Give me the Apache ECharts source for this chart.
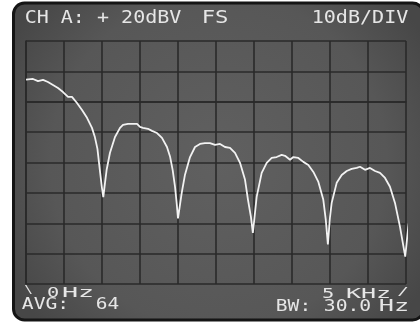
<!DOCTYPE html>
<html>
<head>
<meta charset="utf-8">
<script src="https://cdn.jsdelivr.net/npm/echarts@6/dist/echarts.min.js"></script>
<style>
html,body{margin:0;padding:0;background:#ffffff;}
#c{width:420px;height:324px;}
</style>
</head>
<body>
<div id="c"></div>
<script>
// Frequency (Hz) and level (dBV)
const freqHz = [
  0, 13, 92, 158, 224, 289, 355, 421, 487, 553, 605, 671, 737, 803, 868, 905, 940, 974, 1000, 1017,
  1039, 1061, 1105, 1171, 1237, 1276, 1342, 1395, 1461, 1500, 1539, 1605, 1658, 1724, 1789, 1855, 1895, 1930, 1961, 1983, 2000,
  2049, 2092, 2158, 2224, 2289, 2355, 2421, 2487, 2553, 2618, 2684, 2750, 2816, 2882, 2921, 2960, 2985,
  3035, 3101, 3167, 3233, 3298, 3364, 3408, 3474, 3518, 3583, 3649, 3715, 3781, 3847, 3912, 3945, 3972,
  4000, 4022, 4088, 4154, 4220, 4285, 4351, 4395, 4461, 4526, 4592, 4658, 4724, 4789, 4855, 4921, 4990,
  5030, 5075
];
const levelDbv = [
  7.3, 7.2, 7.5, 6.8, 7.2, 6.5, 5.5, 4.5, 3.2, 1.6, 1.6, -0.4, -2.7, -5.3, -8.6, -11.5, -15.5, -23, -28.5, -31.4,
  -26.8, -22.4, -16.8, -11.6, -8.6, -7.6, -7.3, -7.3, -7.3, -8.3, -8.6, -8.9, -9.6, -10.3, -11.9, -14.9, -18, -22.5, -28, -33.5, -38.4,
  -30, -24, -18.2, -14.9, -13.9, -13.6, -13.6, -14.2, -13.9, -14.9, -15.2, -16.8, -20.1, -25.7, -32.3, -38, -43.2,
  -31.3, -23.4, -20.1, -18.5, -18.2, -17.5, -17.8, -19.1, -18.2, -18.5, -19.8, -20.8, -23.1, -26.4, -32.3, -39, -47,
  -38, -33.3, -26.7, -24.1, -22.8, -22.1, -21.8, -21.4, -22.4, -21.8, -22.8, -23.4, -25.1, -28, -33.3, -41.2, -51,
  -41.2, -33.9
];
// Axis scale: 0..5 kHz (500 Hz/div), +20 dBV full scale at 10 dB/div
const xMinHz = 0, xMaxHz = 5000, xStepHz = 500;
const yMinDb = -60, yMaxDb = 20, yStepDb = 10;
// On-screen annotation texts
const headerTexts = ['CH A: + 20dBV', 'FS', '10dB/DIV'];
const footerTexts = ['\\', '0', 'Hz', 'AVG:', '64', '5', 'KHz', '/', 'BW:', '30.0', 'Hz'];

const chart = echarts.init(document.getElementById('c'), null, {renderer: 'canvas'});

const FONT = '"DejaVu Sans Mono", "Liberation Mono", monospace';
const mctx = document.createElement('canvas').getContext('2d');
function measure(t, size) { mctx.font = size + 'px ' + FONT; return mctx.measureText(t).width; }
// text chunk: [text, inkLeft, inkRight, capTop, fontSize]
function textEl(t, left, right, capTop, size) {
  const w = measure(t, size);
  const target = (right - left) + size * 0.16;
  const sx = target / w;
  return {
    type: 'text', x: left - size * 0.08, y: capTop - size * 0.2, scaleX: sx, z: 100,
    style: { text: t, font: size + 'px ' + FONT, fill: '#e6e6e6', align: 'left', verticalAlign: 'top' }
  };
}
const layout = [
  [headerTexts[0], 26, 180, 13, 17],
  [headerTexts[1], 203, 227, 13, 17],
  [headerTexts[2], 313, 407, 13, 17],
  [footerTexts[0], 25, 32, 287, 10],
  [footerTexts[1], 48, 58, 289, 14],
  [footerTexts[2], 63, 93, 289, 14],
  [footerTexts[3], 23, 68, 301, 15],
  [footerTexts[4], 97, 118, 301, 15],
  [footerTexts[5], 323, 333, 290, 14],
  [footerTexts[6], 347, 390, 290, 14],
  [footerTexts[7], 398, 408, 289, 10],
  [footerTexts[8], 277, 310, 303, 15],
  [footerTexts[9], 325, 370, 303, 15],
  [footerTexts[10], 380, 408, 303, 15]
];
const textEls = layout.map(a => textEl(a[0], a[1], a[2], a[3], a[4]));

const gridColor = '#2a2a2a';
chart.setOption({
  animation: false,
  backgroundColor: '#ffffff',
  graphic: {
    elements: [
      {
        type: 'rect', z: -10, silent: true,
        shape: { x: 13.5, y: 3, width: 410, height: 317, r: 11 },
        style: {
          fill: {
            type: 'radial', x: 0.5, y: 0.5, r: 0.75,
            colorStops: [{offset: 0, color: '#606060'}, {offset: 0.7, color: '#575757'}, {offset: 1, color: '#474747'}]
          },
          stroke: '#151515', lineWidth: 3
        }
      }
    ].concat(textEls)
  },
  grid: { left: 26, right: 14, top: 41, bottom: 40, show: false },
  xAxis: {
    type: 'value', min: xMinHz, max: xMaxHz, interval: xStepHz,
    axisLine: { show: true, lineStyle: { color: gridColor, width: 1.6 } },
    axisTick: { show: false }, axisLabel: { show: false },
    splitLine: { show: true, lineStyle: { color: gridColor, width: 1.6 } }
  },
  yAxis: {
    type: 'value', min: yMinDb, max: yMaxDb, interval: yStepDb,
    axisLine: { show: true, lineStyle: { color: gridColor, width: 1.6 } },
    axisTick: { show: false }, axisLabel: { show: false },
    splitLine: { show: true, lineStyle: { color: gridColor, width: 1.6 } }
  },
  series: [{
    type: 'line',
    data: freqHz.map((f, i) => [f, levelDbv[i]]),
    showSymbol: false, symbol: 'none', clip: false,
    lineStyle: { color: '#f2f2f2', width: 1.8 },
    smooth: false, z: 5
  }]
});
</script>
</body>
</html>
